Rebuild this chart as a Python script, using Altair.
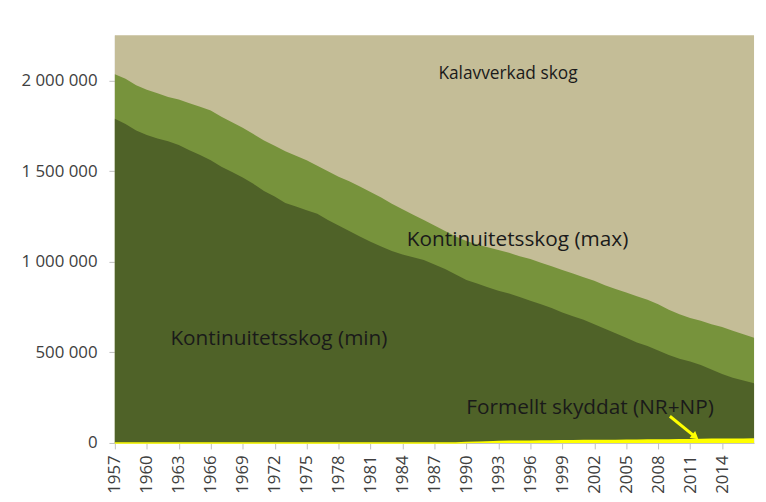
import altair as alt
import pandas as pd

years = list(range(1957, 2018))

kont_max = [2035, 2010, 1975, 1950, 1930, 1910, 1895, 1875, 1855, 1835,
            1800, 1770, 1740, 1705, 1670, 1640, 1610, 1585, 1560, 1530,
            1500, 1470, 1445, 1415, 1385, 1355, 1320, 1290, 1260, 1230,
            1200, 1170, 1140, 1115, 1095, 1080, 1065, 1050, 1030, 1015,
            995, 975, 955, 935, 915, 895, 870, 850, 830, 810,
            790, 765, 735, 710, 690, 675, 655, 640, 620, 600, 580]

kont_min = [1790, 1760, 1725, 1700, 1680, 1665, 1645, 1615, 1590, 1560,
            1525, 1495, 1465, 1430, 1390, 1360, 1325, 1305, 1285, 1265,
            1230, 1200, 1170, 1140, 1110, 1085, 1060, 1040, 1025, 1010,
            985, 960, 930, 900, 880, 860, 840, 825, 805, 785,
            765, 745, 720, 700, 680, 655, 630, 605, 580, 555,
            535, 510, 485, 465, 450, 430, 405, 380, 360, 345, 330]

skyddat = [0, 0, 0, 0, 0, 0, 0, 0, 0, 0,
           0, 0, 0, 0, 0, 0, 0, 0, 0, 0,
           0, 0, 0, 0, 0, 0, 0, 0, 0, 0,
           0, 0, 0, 2, 4, 6, 8, 9, 10, 10,
           11, 11, 12, 12, 13, 13, 14, 14, 15, 15,
           16, 16, 17, 18, 18, 19, 20, 20, 21, 21, 22]

total = [2250] * len(years)

label_texts = ["Kalavverkad skog", "Kontinuitetsskog (max)",
               "Kontinuitetsskog (min)", "Formellt skyddat (NR+NP)"]
label_years = [1993.9, 1994.8, 1972.4, 2001.6]
label_values = [2038000, 1120000, 574000, 191000]
label_sizes = [17.5, 21, 21, 21]

arrow_start = (2009.1, 147500)
arrow_end = (2011.4, 38000)

x_ticks = list(range(1957, 2015, 3))
y_ticks = [0, 500000, 1000000, 1500000, 2000000]

df = pd.DataFrame({
    "year": years,
    "total": [v * 1000 for v in total],
    "kmax": [v * 1000 for v in kont_max],
    "kmin": [v * 1000 for v in kont_min],
    "skyddat": [v * 1000 for v in skyddat],
})

labels_df = pd.DataFrame({"text": label_texts, "year": label_years,
                          "value": label_values, "size": label_sizes})
arrow_df = pd.DataFrame({"year": [arrow_start[0]], "value": [arrow_start[1]],
                         "year2": [arrow_end[0]], "value2": [arrow_end[1]]})

FONT = "Open Sans"


def x_enc(field="year:Q"):
    return alt.X(field,
                 scale=alt.Scale(domain=[1957, 2017], nice=False, zero=False),
                 axis=alt.Axis(values=x_ticks, format="d", labelAngle=-90,
                               labelAlign="right", labelBaseline="middle",
                               title=None, grid=False, labelFont=FONT,
                               labelFontSize=17, labelColor="#404040",
                               labelPadding=6, tickSize=6, tickColor="#bfbfbf",
                               domainColor="#bfbfbf", labelOverlap=False,
                               labelFlush=False, labelBound=False))


def y_enc(field):
    return alt.Y(field,
                 scale=alt.Scale(domain=[0, 2250000], nice=False),
                 axis=alt.Axis(values=y_ticks, title=None, grid=False,
                               labelExpr="replace(replace(format(datum.value, ','), ',', ' '), ',', ' ')",
                               labelFont=FONT, labelFontSize=17,
                               labelColor="#404040", labelPadding=12,
                               tickSize=6, tickColor="#bfbfbf",
                               domainColor="#bfbfbf", labelOverlap=False))


base = alt.Chart(df)
beige = base.mark_area(color="#c4bd97", opacity=1).encode(x=x_enc(), y=y_enc("total:Q"))
light = base.mark_area(color="#77933c", opacity=1).encode(x=x_enc(), y=y_enc("kmax:Q"))
dark = base.mark_area(color="#4f6228", opacity=1).encode(x=x_enc(), y=y_enc("kmin:Q"))
yellow = base.mark_area(color="#ffff00", opacity=1,
                        line={"color": "#ffff00", "strokeWidth": 1.5}).encode(
    x=x_enc(), y=y_enc("skyddat:Q"))

texts = alt.Chart(labels_df).mark_text(font=FONT, color="#1a1a1a", align="center",
                                       baseline="middle").encode(
    x=x_enc(), y=y_enc("value:Q"), text="text:N",
    size=alt.Size("size:Q", scale=None, legend=None))

arrow = alt.Chart(arrow_df).mark_rule(color="#ffff00", strokeWidth=3).encode(
    x=x_enc(), y=y_enc("value:Q"), x2="year2:Q", y2="value2:Q")
head = alt.Chart(arrow_df).mark_point(shape="triangle", filled=True, color="#ffff00",
                                      opacity=1, size=80, angle=129).encode(
    x=x_enc("year2:Q"), y=y_enc("value2:Q"))

chart = alt.layer(beige, light, dark, yellow, texts, arrow, head).properties(
    width=646, height=412,
    autosize=alt.AutoSizeParams(type="none"),
    padding={"left": 108, "top": 25, "right": 4, "bottom": 50},
    background="white",
).configure_view(stroke=None)

chart.save("out.html", embed_options={"renderer": "svg", "actions": False})
